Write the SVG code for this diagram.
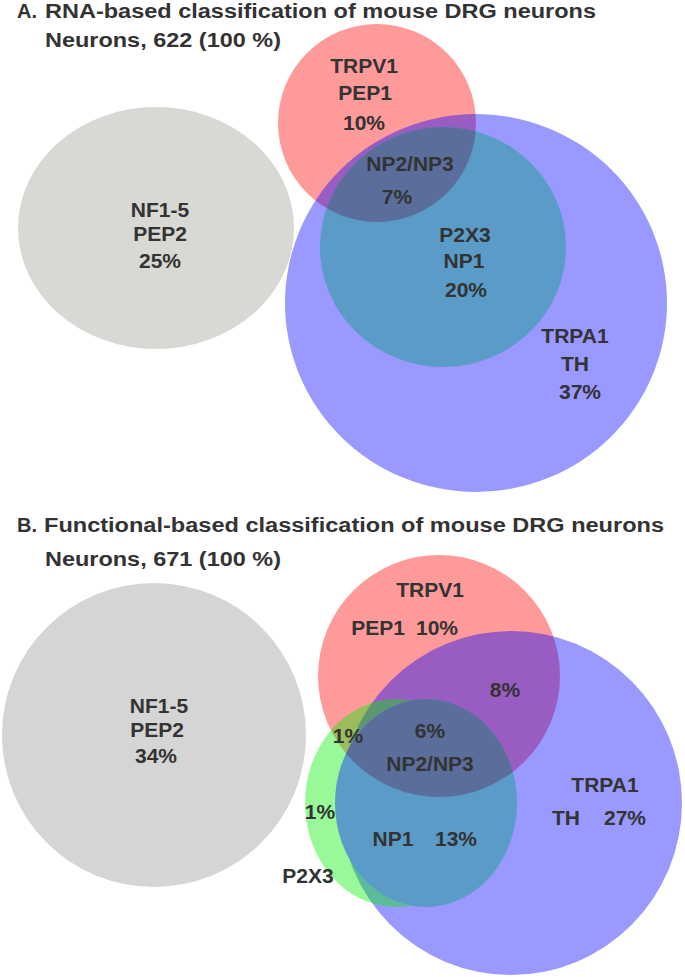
<svg xmlns="http://www.w3.org/2000/svg" width="685" height="977" viewBox="0 0 685 977">
<style>
text{font-family:"Liberation Sans",Arial,sans-serif;font-weight:bold;fill:#333333}
.t{font-size:20px}
.l{font-size:21px;text-anchor:middle}
.gray{fill:#d8d8d5}
.grayb{fill:#d5d5d5}
.red{fill:#ff9a9a}
.blue{fill:#0000ff;fill-opacity:0.4}
.teal{fill:#5b9bc8}
.slate{fill:#5a6d9b}
.green{fill:#00f000;fill-opacity:0.4}
</style>
<defs>
<clipPath id="cA-teal"><ellipse cx="443" cy="247" rx="123" ry="120"/></clipPath>
<clipPath id="cB-teal"><ellipse cx="426" cy="803" rx="91" ry="104"/></clipPath>
</defs>
<rect width="685" height="977" fill="#ffffff"/>

<!-- Panel A -->
<g id="titleA">
<text class="t" x="17" y="18">A.</text>
<text class="t" x="45" y="18" textLength="551" lengthAdjust="spacingAndGlyphs">RNA-based classification of mouse DRG neurons</text>
<text class="t" x="45" y="47" textLength="236" lengthAdjust="spacingAndGlyphs">Neurons, 622 (100 %)</text>
</g>
<g id="A-NF">
<ellipse class="gray" cx="156" cy="228" rx="138" ry="121"/>
<text class="l" x="160" y="217">NF1-5</text>
<text class="l" x="160" y="241">PEP2</text>
<text class="l" x="160" y="268">25%</text>
</g>
<g id="A-TRPV1">
<circle class="red" cx="377" cy="123" r="99"/>
</g>
<g id="A-TRPA1">
<ellipse class="blue" cx="476" cy="303" rx="191" ry="189"/>
</g>
<g id="A-P2X3">
<ellipse class="teal" cx="443" cy="247" rx="123" ry="120"/>
</g>
<g id="A-NP2NP3">
<circle class="slate" cx="377" cy="123" r="99" clip-path="url(#cA-teal)"/>
</g>
<g id="A-labels">
<text class="l" x="364" y="73">TRPV1</text>
<text class="l" x="365" y="100">PEP1</text>
<text class="l" x="364" y="130">10%</text>
<text class="l" x="410" y="171">NP2/NP3</text>
<text class="l" x="397" y="204">7%</text>
<text class="l" x="465" y="242">P2X3</text>
<text class="l" x="464" y="268">NP1</text>
<text class="l" x="466" y="297">20%</text>
<text class="l" x="575" y="343">TRPA1</text>
<text class="l" x="575" y="371">TH</text>
<text class="l" x="580" y="399">37%</text>
</g>

<!-- Panel B -->
<g id="titleB">
<text class="t" x="17" y="532">B.</text>
<text class="t" x="44" y="532" textLength="620" lengthAdjust="spacingAndGlyphs">Functional-based classification of mouse DRG neurons</text>
<text class="t" x="45" y="566" textLength="236" lengthAdjust="spacingAndGlyphs">Neurons, 671 (100 %)</text>
</g>
<g id="B-NF">
<circle class="grayb" cx="154" cy="735" r="152"/>
<text class="l" x="159" y="713">NF1-5</text>
<text class="l" x="157" y="737">PEP2</text>
<text class="l" x="156" y="763">34%</text>
</g>
<g id="B-TRPV1">
<circle class="red" cx="439" cy="676" r="121"/>
</g>
<g id="B-TRPA1">
<ellipse class="blue" cx="511" cy="803" rx="171" ry="172"/>
</g>
<g id="B-P2X3">
<ellipse class="green" cx="396" cy="803" rx="91" ry="104"/>
</g>
<g id="B-NP1">
<ellipse class="teal" cx="426" cy="803" rx="91" ry="104"/>
</g>
<g id="B-NP2NP3">
<circle class="slate" cx="439" cy="676" r="121" clip-path="url(#cB-teal)"/>
</g>
<g id="B-labels">
<text class="l" x="430" y="597">TRPV1</text>
<text class="l" x="378" y="635">PEP1</text>
<text class="l" x="437" y="635">10%</text>
<text class="l" x="505" y="697">8%</text>
<text class="l" x="348" y="743">1%</text>
<text class="l" x="430" y="738">6%</text>
<text class="l" x="430" y="771">NP2/NP3</text>
<text class="l" x="320" y="819">1%</text>
<text class="l" x="393" y="846">NP1</text>
<text class="l" x="456" y="846">13%</text>
<text class="l" x="308" y="883">P2X3</text>
<text class="l" x="605" y="792">TRPA1</text>
<text class="l" x="566" y="825">TH</text>
<text class="l" x="625" y="825">27%</text>
</g>
</svg>
